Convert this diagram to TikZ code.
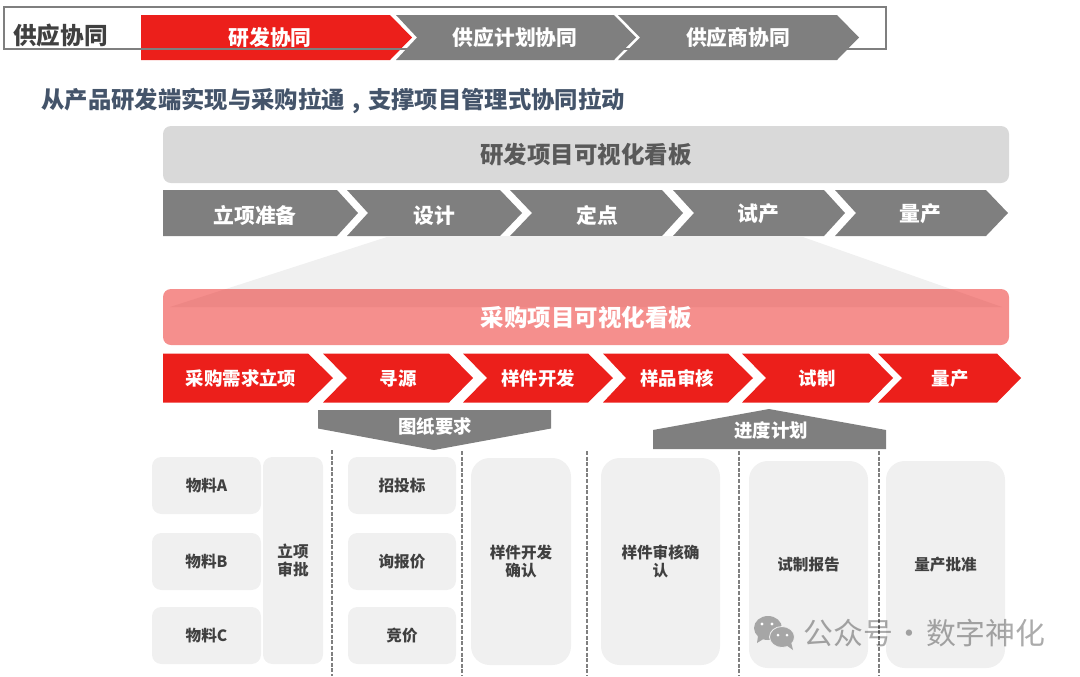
\documentclass[tikz,border=0pt]{standalone}
\usepackage{fontspec}
\setmainfont{Noto Sans CJK SC}
\definecolor{redfill}{HTML}{EC1F1B}
\definecolor{grayfill}{HTML}{7F7F7F}
\definecolor{boxfill}{HTML}{F0F0F0}
\definecolor{darktext}{HTML}{404040}
\definecolor{headtext}{HTML}{44546A}
\def\px{0.75pt}
\tikzset{
    lab/.style={inner sep=0pt,text=white,font=\bfseries\fontsize{15.6}{18}\selectfont},
    sublab/.style={inner sep=0pt,text=white,font=\bfseries\fontsize{13.8}{16}\selectfont},
    stepbox/.style={inner sep=0pt,fill=boxfill,text=darktext,align=center,font=\bfseries\fontsize{11.7}{13.5}\selectfont},
    dashline/.style={dashed,dash pattern=on 3pt off 1.2pt,color=grayfill,line width=0.9pt},
}
\begin{document}
\begin{tikzpicture}[x=0.75pt,y=-0.75pt]
    \useasboundingbox (0,0) rectangle (1080,676);
    % top row
    \foreach \a/\b/\c/\d/\col/\nm/\lab/\xl in {141/390/412/141/redfill/topa/研发协同/270,396/614/636/417/grayfill/topb/供应计划协同/515,618/837/859/640/grayfill/topc/供应商协同/738} {
        \fill[\col] (\a,15) -- (\b,15) -- (\c,37.5) -- (\b,60) -- (\a,60) -- (\d,37.5) -- cycle;
        \node[lab] (\nm) at (\xl,37.5) {\lab};
    }
    \draw[grayfill,line width=0.9pt] (4,7) rectangle (886,49);
    \node[inner sep=0pt,text=darktext,font=\bfseries\fontsize{17.7}{20}\selectfont] (title) at (60.5,35.5) {供应协同};
    \node[inner sep=0pt,text=headtext,font=\bfseries\fontsize{17.5}{21}\selectfont] (head) at (333,100.5) {从产品研发端实现与采购拉通\makebox[1em][c]{,}支撑项目管理式协同拉动};
    % rd board
    \node[inner sep=0pt,fill=black!15,rounded corners=6pt,minimum width=846*\px,minimum height=57*\px,text=black!65,font=\bfseries\fontsize{17.6}{21}\selectfont] (rdboard) at (586,154.5) {研发项目可视化看板};
    \foreach \a/\b/\c/\d/\nm/\lab/\xl/\yl in {163/337/358/163/rda/立项准备/255/215.5,347/500/522/368/rdb/设计/434/215.5,510/662/683/532/rdc/定点/597/215.5,673/824/845/694/rdd/试产/758/213.5,835/986/1008/856/rde/量产/920/213.5} {
        \fill[grayfill] (\a,190) -- (\b,190) -- (\c,213) -- (\b,236) -- (\a,236) -- (\d,213) -- cycle;
        \node[lab] (\nm) at (\xl,\yl) {\lab};
    }
    % projection onto purchasing board
    \fill[boxfill] (390,236) -- (800,236) -- (1002,307) -- (170,307) -- cycle;
    \fill[redfill,opacity=0.5,rounded corners=6pt] (163,289) rectangle (1009,345);
    \node[inner sep=0pt,text=white,font=\bfseries\fontsize{17.6}{21}\selectfont] (poboard) at (586.5,317.5) {采购项目可视化看板};
    \foreach \a/\b/\c/\d/\nm/\lab/\xl in {163/308/333/163/poa/采购需求立项/241,323/449/473/347/pob/寻源/398,463/588/613/487/poc/样件开发/538,603/728/753/626/pod/样品审核/677,742/869/893/766/poe/试制/817,878/997/1021/902/pof/量产/950} {
        \fill[redfill] (\a,353.5) -- (\b,353.5) -- (\c,378) -- (\b,402.5) -- (\a,402.5) -- (\d,378) -- cycle;
        \node[inner sep=0pt,text=white,font=\bfseries\fontsize{13.8}{16}\selectfont] (\nm) at (\xl,378.5) {\lab};
    }
    % drawing and schedule tags
    \fill[grayfill] (318,410) -- (551,410) -- (551,428.5) -- (434,450) -- (318,428.5) -- cycle;
    \node[sublab] (drawtag) at (435,426.5) {图纸要求};
    \fill[grayfill] (653,449) -- (886,449) -- (886,430) -- (769,409) -- (653,430) -- cycle;
    \node[sublab] (plantag) at (771,430.5) {进度计划};
    % dividers
    \foreach \i/\y in {332/450,462/451,587/451,739/451,879/451} {
        \draw[dashline] (\i,\y) -- (\i,676);
    }
    % boxes
    \foreach \nm/\i/\y/\w/\h/\lab in {mata/206.5/485.5/109/57/物料A,matb/206.5/561.5/109/57/物料B,matc/206.5/635.5/109/57/物料C,appr/293/560.5/60/207/{立项\\审批},bida/402/485.5/108/57/招投标,bidb/402/561.5/108/57/询报价,bidc/402/635.5/108/57/竞价} {
        \node[stepbox,rounded corners=7pt,minimum width=\w*\px,minimum height=\h*\px] (\nm) at (\i,\y) {\lab};
    }
    \foreach \nm/\i/\y/\w/\h/\lab in {samp/521/561.5/100/207/{样件开发\\确认},revw/660.5/561.5/119/207/{样件审核确\\认},tria/808.5/564.5/119/207/试制报告,mass/945.5/564.5/119/207/量产批准} {
        \node[stepbox,rounded corners=14pt,minimum width=\w*\px,minimum height=\h*\px] (\nm) at (\i,\y) {\lab};
    }
    % mark
    \fill[black!35] (768,628) ellipse (14 and 12);
    \fill[black!35] (758,636) -- (757,643) -- (765,638) -- cycle;
    \fill[white] (762,624) circle (1.6);
    \fill[white] (772,624) circle (1.6);
    \fill[black!35,draw=boxfill,line width=0.6pt] (782,637) ellipse (12.5 and 10.5);
    \fill[black!35] (786,645) -- (793,650) -- (791,642) -- cycle;
    \fill[white] (778,635) circle (1.5);
    \fill[white] (787,635) circle (1.5);
    \node[inner sep=0pt,text=black,text opacity=0.33,font=\fontsize{22.4}{26}\selectfont] (mark) at (924.5,633) {公众号\makebox[24.75pt][c]{·}数字神化};
\end{tikzpicture}
\end{document}
